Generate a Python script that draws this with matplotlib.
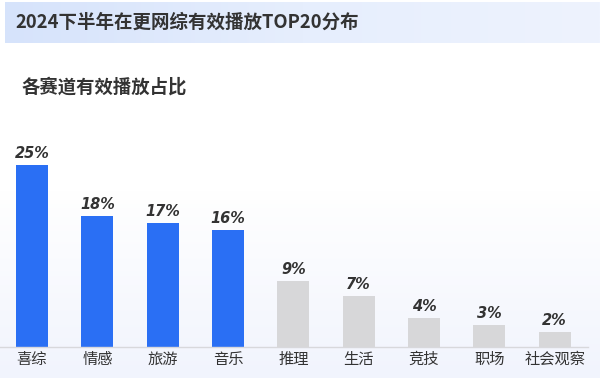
import numpy as np
import matplotlib
matplotlib.use("Agg")
import matplotlib.pyplot as plt
from matplotlib.colors import LinearSegmentedColormap

plt.rcParams['font.family'] = ['Noto Sans CJK SC', 'DejaVu Sans']

title = "2024下半年在更网综有效播放TOP20分布"
subtitle = "各赛道有效播放占比"
categories = ["喜综", "情感", "旅游", "音乐", "推理", "生活", "竞技", "职场", "社会观察"]
shares = [25, 18, 17, 16, 9, 7, 4, 3, 2]
highlight = [True, True, True, True, False, False, False, False, False]

W, H = 600, 378
fig = plt.figure(figsize=(W / 100, H / 100), dpi=100)

# background: white fading to pale lavender at the bottom
bg = fig.add_axes([0, 0, 1, 1], zorder=-10)
bg.set_axis_off()
rows = np.arange(H)
t = np.clip((rows - 190) / (H - 190), 0, 1)
col_top = np.array([1.0, 1.0, 1.0])
col_bot = np.array([0xf1, 0xf4, 0xfd]) / 255
img = col_top[None, None, :] * (1 - t[:, None, None]) + col_bot[None, None, :] * t[:, None, None]
bg.imshow(img, aspect='auto', extent=[0, 1, 0, 1], origin='upper')
bg.set_xlim(0, 1)
bg.set_ylim(0, 1)

# title banner, light blue gradient left to right
ban = fig.add_axes([5 / W, 1 - 43 / H, 1 - 5 / W, 41 / H], zorder=-5)
ban.set_axis_off()
cmap = LinearSegmentedColormap.from_list("ban", ["#d6e3fb", "#e6eefd", "#eef3fe"])
ban.imshow(np.linspace(0, 1, 256)[None, :], cmap=cmap, aspect='auto', extent=[0, 1, 0, 1])
ban.set_xlim(0, 1)
ban.set_ylim(0, 1)

fig.text(15 / W, 1 - 22 / H, title, fontsize=13.3, fontweight='bold', color='#333333',
         va='center', ha='left')
fig.text(22 / W, 1 - 87 / H, subtitle, fontsize=13.2, fontweight='bold', color='#333333',
         va='center', ha='left')

ax = fig.add_axes([0, 1 - 347 / H, 588 / W, 207 / H])
ax.patch.set_alpha(0)
x = np.arange(len(categories))
colors = ["#2a6ff4" if h else "#d7d7d9" for h in highlight]
ax.bar(x, shares, width=0.49, color=colors)
for xi, v in zip(x, shares):
    ax.text(xi, v + 0.55, f"{v}%", ha='center', va='bottom', fontsize=10.5,
            fontweight='bold', fontstyle='italic', color='#333333', family='DejaVu Sans')

ax.set_xlim(-0.49, 8.51)
ax.set_ylim(0, 28.4)
ax.set_xticks(x)
ax.set_xticklabels(categories, fontsize=11, color='#333333')
ax.tick_params(axis='x', length=0, pad=3)
ax.set_yticks([])
for s in ['top', 'right', 'left']:
    ax.spines[s].set_visible(False)
ax.spines['bottom'].set_color('#d8d8dc')
ax.spines['bottom'].set_linewidth(1)

fig.savefig("out.png", dpi=100)
